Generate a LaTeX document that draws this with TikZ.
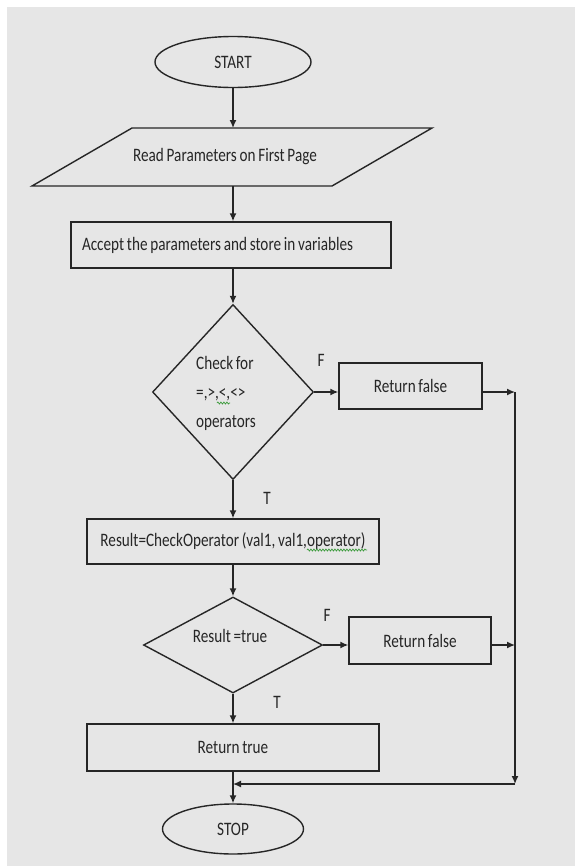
\documentclass[tikz,border=0pt]{standalone}
\usepackage{fontspec}
\setmainfont{Carlito}[FakeStretch=0.8,WordSpace=0.8]
\usetikzlibrary{arrows.meta,shapes.geometric,decorations.pathmorphing}
\definecolor{bg}{HTML}{E6E6E6}
\definecolor{ink}{HTML}{262626}
\definecolor{squig}{HTML}{3A9A3A}
\tikzset{
  flow/.style={draw=ink, line width=1.4pt},
  arr/.style={draw=ink, line width=1.4pt, -{Latex[length=8pt,width=7pt]}},
  lbl/.style={font=\fontsize{19}{22}\selectfont, text=ink},
  box/.style={flow, rectangle, inner sep=0pt, lbl},
  oval/.style={flow, ellipse, inner sep=0pt, lbl},
  dia/.style={flow, diamond, inner sep=0pt},
  txt/.style={lbl, inner sep=0pt},
  wavy/.style={draw=squig, line width=0.7pt, decorate, decoration={snake, amplitude=1pt, segment length=3pt}},
}
\begin{document}
\begin{tikzpicture}[x=1pt,y=-1pt]
\useasboundingbox (0,0) rectangle (575,868);
\fill[white] (0,0) rectangle (575,868);
\fill[bg] (7,7) rectangle (575,866);

% START
\node[oval, minimum width=156pt, minimum height=51pt] (start) at (233,62) {START};

% parallelogram
\draw[flow] (132,128) -- (432,128) -- (332,186) -- (32,186) -- cycle;
\node[txt] (read) at (225,157) {Read Parameters on First Page};
\coordinate (readtop) at (233,128);
\coordinate (readbot) at (233,186);

% accept
\node[box, minimum width=320pt, minimum height=46pt] (accept) at (231,245) {\makebox[298pt][l]{Accept the parameters and store in variables}};

% diamond 1
\node[dia, minimum width=161pt, minimum height=175pt] (chk) at (233,392) {};
\node[txt] (chktxt) at (226,393) {\def\arraystretch{1.32}\begin{tabular}{@{}l@{}}Check for\\=,>,<,<>\\operators\end{tabular}};

% return false 1
\node[box, minimum width=143pt, minimum height=46pt] (rf1) at (410.5,386) {Return false};
\coordinate (j1) at (515,392);

% calc
\node[box, minimum width=292pt, minimum height=45pt] (calc) at (233,541.5) {Result=CheckOperator (val1, val1,operator)};

% diamond 2
\node[dia, minimum width=179pt, minimum height=96pt] (res) at (233,645) {};
\node[txt] (restxt) at (230,636) {Result =true};

% return false 2
\node[box, minimum width=142pt, minimum height=47pt] (rf2) at (420,640.5) {Return false};
\coordinate (j2) at (515,645);

% return true
\node[box, minimum width=292pt, minimum height=47pt] (ret) at (233,747.5) {Return true};

% STOP
\node[oval, minimum width=141pt, minimum height=50pt] (stop) at (233,829) {STOP};
\coordinate (j3) at (515,784);

% labels
\node[txt] (f1) at (321,360) {F};
\node[txt] (t1) at (267,498) {T};
\node[txt] (f2) at (327,615) {F};
\node[txt] (t2) at (277,702) {T};

% connectors
\draw[arr] (start.south) -- (readtop);
\draw[arr] (readbot) -- (readbot |- accept.north);
\draw[arr] (chk.north |- accept.south) -- (chk.north);
\draw[arr] (chk.east) -- (rf1.west |- chk.east);
\draw[arr] (rf1.east |- chk.east) -- (j1);
\draw[arr] (chk.south) -- (chk.south |- calc.north);
\draw[arr] (res.north |- calc.south) -- (res.north);
\draw[arr] (res.east) -- (rf2.west |- res.east);
\draw[arr] (rf2.east |- res.east) -- (j2);
\draw[arr] (res.south) -- (res.south |- ret.north);
\draw[arr] (j1) -- (j3);
\draw[arr] (j3) -- (ret.south |- j3);
\draw[arr] (ret.south) -- (stop.north);

% spell-check squiggles
\draw[wavy] (217,403) -- (230,403);
\draw[wavy] (307,550) -- (367,550);
\end{tikzpicture}
\end{document}
